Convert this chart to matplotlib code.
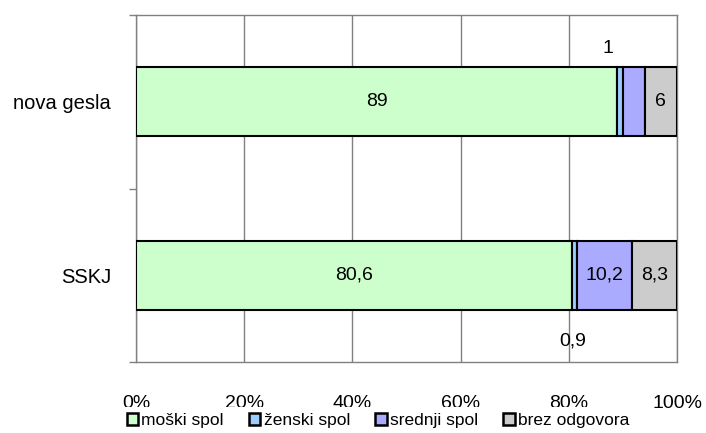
import numpy as np
import matplotlib.pyplot as plt
from matplotlib.patches import Patch
from matplotlib.ticker import FixedLocator

plt.rcParams['font.family'] = ['Liberation Sans', 'DejaVu Sans']

# data
categories = ['SSKJ', 'nova gesla']
series = ['moški spol', 'ženski spol', 'srednji spol', 'brez odgovora']
values = {
    'moški spol':    [80.6, 89],
    'ženski spol':   [0.9, 1],
    'srednji spol':  [10.2, 4],
    'brez odgovora': [8.3, 6],
}
labels = {
    'moški spol':    ['80,6', '89'],
    'ženski spol':   ['0,9', '1'],
    'srednji spol':  ['10,2', ''],
    'brez odgovora': ['8,3', '6'],
}
colors = ['#CCFFCC', '#99CCFF', '#AAAAFF', '#CCCCCC']
xticks = [0, 20, 40, 60, 80, 100]

fig = plt.figure(figsize=(7.06, 4.33), dpi=100)
ax = fig.add_axes([136/706, 1-362/433, 541/706, 347/433])

y = np.arange(len(categories))
left = np.zeros(len(categories))
for name, col in zip(series, colors):
    w = np.array(values[name], dtype=float)
    ax.barh(y, w, left=left, height=0.4, color=col, edgecolor='black',
            linewidth=1.5, zorder=3)
    for i in range(len(categories)):
        txt = labels[name][i]
        if not txt:
            continue
        cx = left[i] + w[i] / 2
        if name == 'ženski spol':
            # small slice: label placed outside the bar
            if i == 1:
                ax.annotate(txt, (cx, y[i] + 0.2), xytext=(-9, 13),
                            textcoords='offset points', ha='center', va='center',
                            fontsize=14)
            else:
                ax.annotate(txt, (cx, y[i] - 0.2), xytext=(-1, -22),
                            textcoords='offset points', ha='center', va='center',
                            fontsize=14)
        else:
            ax.text(cx, y[i], txt, ha='center', va='center', fontsize=14, zorder=4)
    left += w

ax.set_xlim(0, 100)
ax.set_ylim(-0.5, 1.5)
ax.set_xticks(xticks)
ax.set_xticklabels([f'{t}%' for t in xticks], fontsize=14)
ax.tick_params(axis='x', length=0, pad=24)
ax.grid(axis='x', color='#808080', linewidth=1, zorder=0)

ax.set_yticks(y)
ax.set_yticklabels(categories, fontsize=14.5)
ax.tick_params(axis='y', which='major', length=0, pad=18)
ax.yaxis.set_minor_locator(FixedLocator([-0.5, 0.5, 1.5]))
ax.tick_params(axis='y', which='minor', length=5, width=1, color='#808080')

for s in ax.spines.values():
    s.set_color('#808080')
    s.set_linewidth(1)

# legend box is white and sits over the lower part of the tick labels
handles = [Patch(facecolor=c, edgecolor='black', linewidth=1.8) for c in colors]
leg = fig.legend(handles, series, loc='upper center', bbox_to_anchor=(378/706, 1-407/433),
                 ncol=4, fontsize=12.5, frameon=True, facecolor='white', edgecolor='none',
                 framealpha=1, handlelength=0.65, handleheight=0.65, handletextpad=0.2,
                 columnspacing=1.45, borderpad=0.35, borderaxespad=0, fancybox=False)

fig.savefig('out.png', dpi=100)
